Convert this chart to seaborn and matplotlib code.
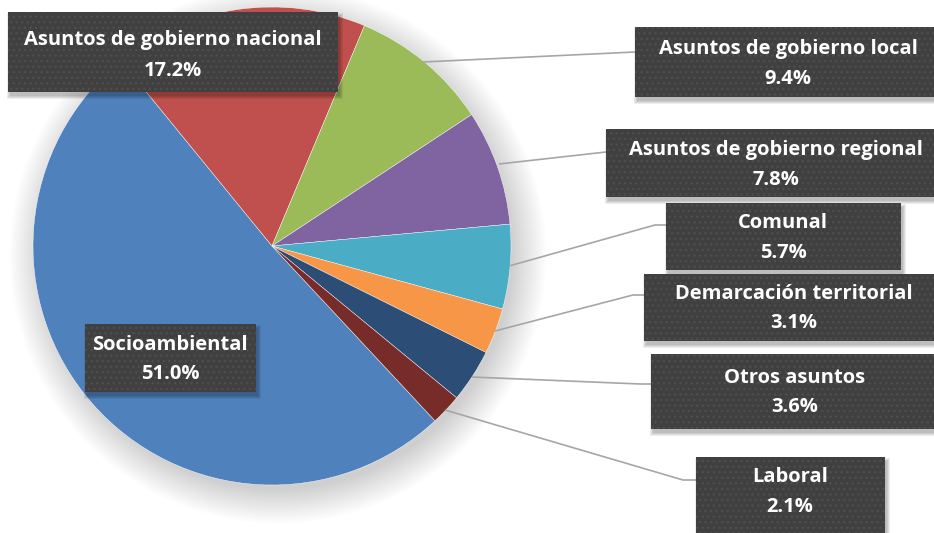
import numpy as np
import seaborn as sns
import matplotlib.pyplot as plt
from matplotlib.patches import Rectangle, Circle

sns.set_style("white")
plt.rcParams['font.family'] = ['Open Sans', 'DejaVu Sans']
plt.rcParams['hatch.linewidth'] = 1.0

# data (clockwise order, starting with Socioambiental)
categories = ['Socioambiental', 'Asuntos de gobierno nacional', 'Asuntos de gobierno local',
              'Asuntos de gobierno regional', 'Comunal', 'Demarcación territorial',
              'Otros asuntos', 'Laboral']
shares = [51.0, 17.2, 9.4, 7.8, 5.7, 3.1, 3.6, 2.1]
colors = ['#4F81BD', '#C0504D', '#9BBB59', '#8064A2', '#4BACC6', '#F79646', '#2C4D75', '#772C2A']

# label boxes in pixel coords: x0, x1, y_top, y_bottom, text x, line1 y, line2 y
boxes = [
    (85, 256, 324, 392, 170, 345, 374),
    (8, 338, 12, 92, 173, 40, 71),
    (635, 940, 27, 97, 788, 49, 79),
    (606, 940, 129, 197, 776, 150, 180),
    (666, 901, 203, 270, 783, 223, 253),
    (644, 940, 274, 341, 794, 294, 323),
    (651, 940, 354, 429, 795, 378, 407),
    (696, 885, 457, 545, 790, 477, 507),
]
# leader lines (pixel coords)
leaders = [
    None,
    None,
    [(423, 62), (635, 52)],
    [(499, 164), (606, 152)],
    [(509, 266), (655, 225), (666, 225)],
    [(495, 331), (633, 295), (644, 295)],
    [(472, 377), (640, 384), (651, 384)],
    [(445, 410), (683, 480), (696, 480)],
]

W, H = 934, 533
fig = plt.figure(figsize=(W / 100, H / 100), dpi=100)
ax = fig.add_axes([0, 0, 1, 1])

cx, cy, r = 272, H - 246, 239

# soft shadow around the pie
for k in range(16):
    ax.add_patch(Circle((cx + 6, cy - 9), r - 4 + k * 2.2, color='black',
                        alpha=0.012, lw=0, zorder=0))

ax.pie(shares, colors=colors, startangle=-47, counterclock=False,
       center=(cx, cy), radius=r,
       wedgeprops=dict(edgecolor='white', linewidth=0.3, zorder=1))

for lead in leaders:
    if lead is None:
        continue
    xs = [p[0] for p in lead]
    ys = [H - p[1] for p in lead]
    ax.plot(xs, ys, color='#a6a6a6', lw=1.2, zorder=2, solid_capstyle='butt')

for cat, val, b in zip(categories, shares, boxes):
    x0, x1, yt, yb, tx, l1, l2 = b
    # box shadow
    for k in range(4):
        ax.add_patch(Rectangle((x0 + 2 - k, H - yb - 4 - k), x1 - x0 + 2 * k, yb - yt + 2 * k,
                               color='black', alpha=0.07, lw=0, zorder=3))
    ax.add_patch(Rectangle((x0, H - yb), x1 - x0, yb - yt, facecolor='#404040',
                           edgecolor='#4e4e4e', hatch='...', lw=0, zorder=4))
    ax.text(tx, H - l1, cat, color='white', fontsize=14.5, fontweight='bold',
            ha='center', va='center', zorder=5)
    ax.text(tx, H - l2, f'{val:.1f}%', color='white', fontsize=14.5, fontweight='bold',
            ha='center', va='center', zorder=5)

ax.set_xlim(0, W)
ax.set_ylim(0, H)
ax.set_aspect('equal')
ax.axis('off')

plt.savefig('out.png', dpi=100)
plt.close()
